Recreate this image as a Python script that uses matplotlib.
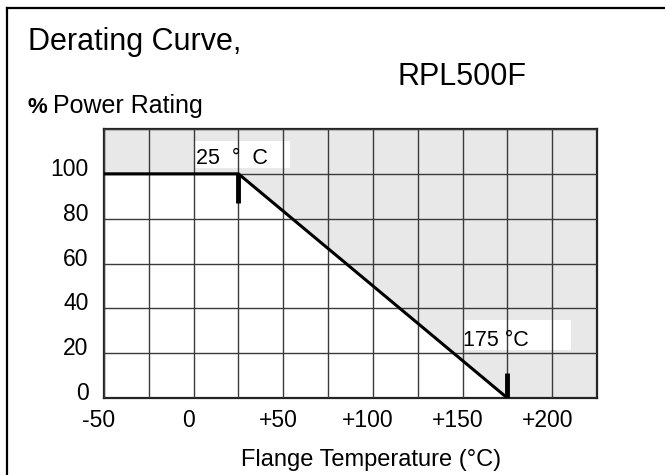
import matplotlib
matplotlib.use("Agg")
import matplotlib.pyplot as plt
from matplotlib.lines import Line2D
from matplotlib.patches import Rectangle
import matplotlib.transforms as mtransforms

plt.rcParams['font.family'] = ['Liberation Sans', 'DejaVu Sans']

# ---------------------------
# Dane
# ---------------------------
temps = [-50, 25, 175, 225]          # temperatura kołnierza (°C)
power = [100, 100, 0, 0]             # % mocy znamionowej
x_ticks = [-50, -25, 0, 25, 50, 75, 100, 125, 150, 175, 200, 225]
x_labels = ["-50", "", "0", "", "+50", "", "+100", "", "+150", "", "+200", ""]
y_ticks = [0, 20, 40, 60, 80, 100, 120]
y_labels = ["0", "20", "40", "60", "80", "100", ""]
mark_x = [25, 175]
mark_lo = [87, 0]
mark_hi = [100, 11]

GRAY = '#e8e8e8'

fig = plt.figure(figsize=(6.65, 4.75), dpi=100)
ax = fig.add_axes([104/665, 1 - 398/475, 493/665, 269/475])

# obszar powyżej krzywej - szary
ax.fill_between(temps, power, 120, color=GRAY, lw=0, zorder=0)

ax.set_xlim(-50, 225)
ax.set_ylim(0, 120)
ax.set_xticks(x_ticks)
ax.set_xticklabels(x_labels, fontsize=16.5)
ax.set_yticks(y_ticks)
ax.set_yticklabels(y_labels, fontsize=16.5)
ax.tick_params(length=0)
ax.tick_params(axis='x', pad=8)
ax.tick_params(axis='y', pad=11)
ax.grid(True, color='#3a3a3a', lw=1.0, zorder=1)
ax.set_axisbelow(False)
for sp in ax.spines.values():
    sp.set_linewidth(1.6)
    sp.set_color('#222222')

# lekkie przesunięcie etykiet osi w górę / w lewo (jak w oryginale)
shift_y = mtransforms.ScaledTranslation(0, 7/100, fig.dpi_scale_trans)
for lab in ax.get_yticklabels():
    lab.set_transform(lab.get_transform() + shift_y)
shift_x = mtransforms.ScaledTranslation(-5/100, 0, fig.dpi_scale_trans)
for lab in ax.get_xticklabels():
    lab.set_transform(lab.get_transform() + shift_x)

# krzywa
ax.plot(temps[:3], power[:3], color='black', lw=2.2, zorder=4, solid_capstyle='butt')
ax.vlines(mark_x, mark_lo, mark_hi, color='black', lw=3.5, zorder=4)

# etykiety punktów
ax.add_patch(Rectangle((1, 102.8), 53, 11.9, facecolor='white', edgecolor='none', zorder=2))
ax.text(1.5, 104.5, "25  °  C", fontsize=15.5, zorder=5)
ax.add_patch(Rectangle((150, 21.4), 60.5, 13.4, facecolor='white', edgecolor='none', zorder=2))
ax.text(150.5, 23.2, "175 °C", fontsize=15.5, zorder=5)

ax.set_xlabel("Flange Temperature (°C)", fontsize=17, va='center')
ax.xaxis.set_label_coords(0.5416, -0.2305)

# tytuły
fig.text(28/665, 1 - 50/475, "Derating Curve,", fontsize=22, va='baseline')
fig.text(397/665, 1 - 85/475, "RPL500F", fontsize=22, va='baseline')
fig.text(28/665, 1 - 113/475, "%", fontsize=16, fontweight='bold', va='baseline')
fig.text(53/665, 1 - 113/475, "Power Rating", fontsize=18, va='baseline')

# ramka
fig.add_artist(Line2D([7/665, 7/665], [0, 1 - 8/475], color='black', lw=1.6))
fig.add_artist(Line2D([7/665, 1], [1 - 8/475, 1 - 8/475], color='black', lw=1.6))

fig.savefig("out.png", dpi=100)
